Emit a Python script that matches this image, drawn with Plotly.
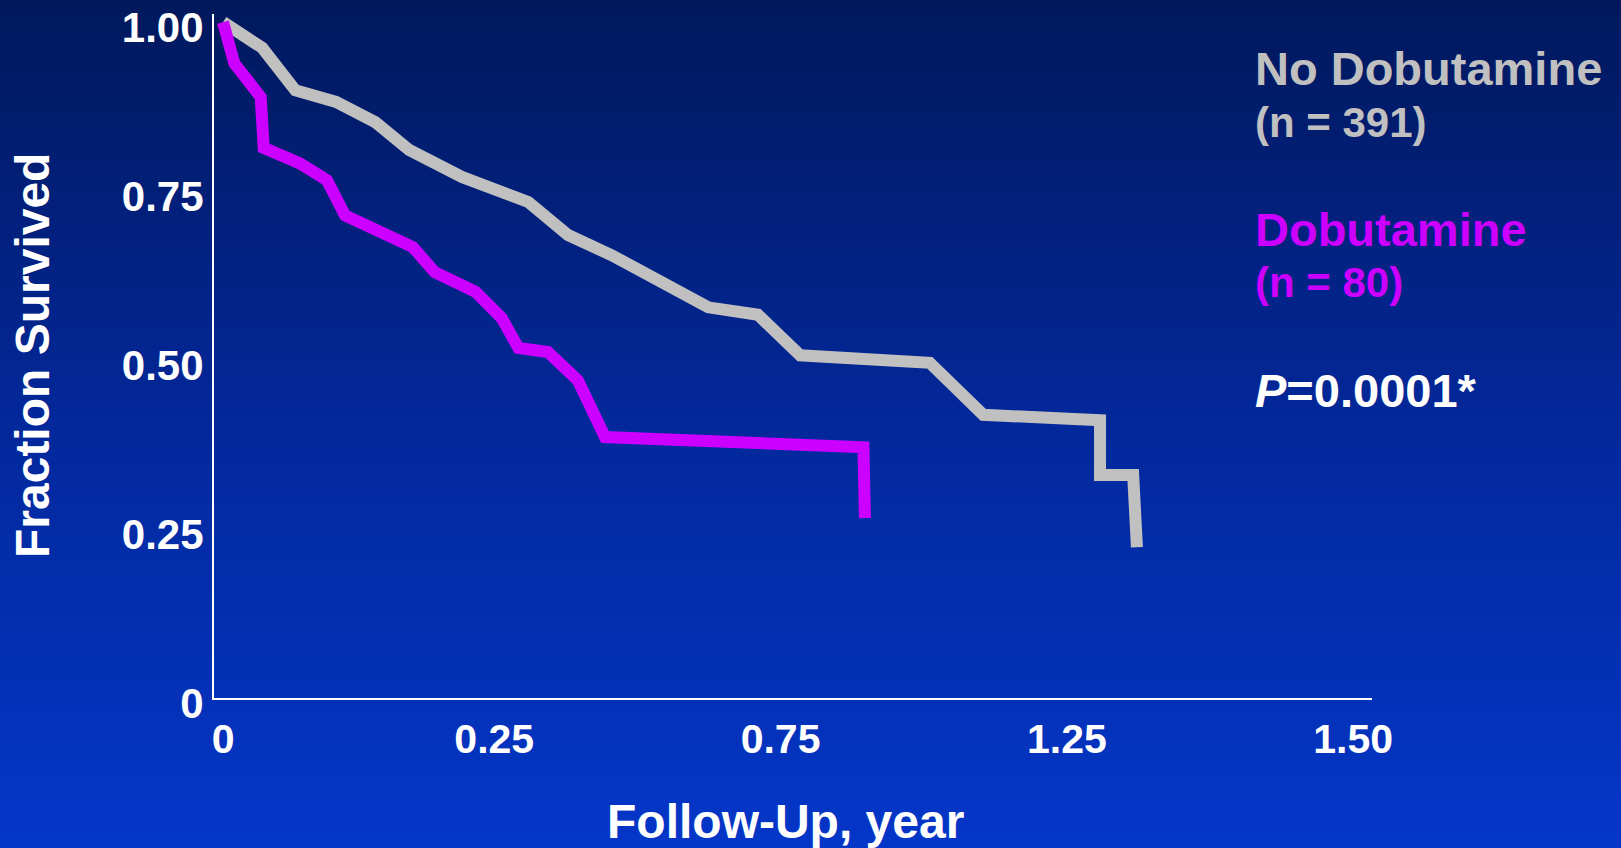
import plotly.graph_objects as go

# ---------------- data ----------------
no_dob_years = [0.000, 0.052, 0.096, 0.150, 0.202, 0.247, 0.317, 0.405, 0.458, 0.516,
                0.644, 0.710, 0.766, 0.938, 1.009, 1.164, 1.164, 1.208, 1.213]
no_dob_surv = [1.000, 0.962, 0.899, 0.882, 0.852, 0.811, 0.771, 0.734, 0.685, 0.655,
               0.578, 0.567, 0.507, 0.496, 0.419, 0.411, 0.330, 0.330, 0.223]

dob_years = [0.000, 0.015, 0.050, 0.054, 0.102, 0.138, 0.162, 0.252, 0.281, 0.335,
             0.370, 0.392, 0.431, 0.471, 0.507, 0.850, 0.852]
dob_surv = [1.000, 0.939, 0.889, 0.814, 0.791, 0.766, 0.714, 0.667, 0.630, 0.601,
            0.562, 0.518, 0.512, 0.470, 0.386, 0.371, 0.266]

xtick_vals = [0, 0.36, 0.74, 1.12, 1.50]
xtick_text = ["0", "0.25", "0.75", "1.25", "1.50"]
ytick_vals = [0, 0.25, 0.50, 0.75, 1.00]
ytick_text = ["0", "0.25", "0.50", "0.75", "1.00"]

label_no_dob = "No Dobutamine"
n_no_dob = "(n = 391)"
label_dob = "Dobutamine"
n_dob = "(n = 80)"
p_text = "<i>P</i>=0.0001*"

# ---------------- styling ----------------
W, H = 1621, 848
L, R, T, B = 214, 249, 14, 150
GRAY = "#C0C0C0"
MAGENTA = "#CC00FF"
FONT = "Liberation Sans, Arial, sans-serif"


def px_to_paper(px, py):
    return (px - L) / (W - L - R), (H - B - py) / (H - T - B)


def bg_color(t):
    stops = [(0.0, (1, 24, 92)), (0.5, (3, 40, 155)), (1.0, (4, 54, 200))]
    for (t0, c0), (t1, c1) in zip(stops[:-1], stops[1:]):
        if t0 <= t <= t1:
            f = (t - t0) / (t1 - t0)
            c = [round(a + (b - a) * f) for a, b in zip(c0, c1)]
            return "rgb(%d,%d,%d)" % tuple(c)
    return "rgb(4,54,200)"


fig = go.Figure()
fig.add_trace(go.Scatter(x=no_dob_years, y=no_dob_surv, mode="lines",
                         line=dict(color=GRAY, width=12), name=label_no_dob,
                         showlegend=False))
fig.add_trace(go.Scatter(x=dob_years, y=dob_surv, mode="lines",
                         line=dict(color=MAGENTA, width=12), name=label_dob,
                         showlegend=False))

# vertical gradient background made of thin bands
band = 4
xa, _ = px_to_paper(0, 0)
xb, _ = px_to_paper(W, 0)
for top in range(0, H, band):
    _, y_top = px_to_paper(0, top)
    _, y_bot = px_to_paper(0, min(top + band + 1, H))
    fig.add_shape(type="rect", xref="paper", yref="paper", x0=xa, x1=xb,
                  y0=y_bot, y1=y_top, layer="below", line=dict(width=0),
                  fillcolor=bg_color((top + band / 2) / H))

annots = [
    (label_no_dob, 1253, 69, 47, GRAY),
    (n_no_dob, 1253, 123, 42, GRAY),
    (label_dob, 1253, 229, 47, MAGENTA),
    (n_dob, 1253, 282, 42, MAGENTA),
    (p_text, 1253, 390, 47, "white"),
]
for text, px, py, size, color in annots:
    ax_, ay_ = px_to_paper(px, py)
    fig.add_annotation(text="<b>" + text + "</b>", x=ax_, y=ay_, xref="paper", yref="paper",
                       xanchor="left", yanchor="middle", showarrow=False,
                       font=dict(family=FONT, size=size, color=color))

tx, ty = px_to_paper(32, 356)
fig.add_annotation(text="<b>Fraction Survived</b>", x=tx, y=ty, xref="paper", yref="paper",
                   textangle=-90, xanchor="center", yanchor="middle", showarrow=False,
                   font=dict(family=FONT, size=48, color="white"))
tx, ty = px_to_paper(785, 821)
fig.add_annotation(text="<b>Follow-Up, year</b>", x=tx, y=ty, xref="paper", yref="paper",
                   xanchor="center", yanchor="middle", showarrow=False,
                   font=dict(family=FONT, size=48, color="white"))

fig.update_layout(
    width=W, height=H,
    margin=dict(l=L, r=R, t=T, b=B, pad=0, autoexpand=False),
    paper_bgcolor="rgb(1,24,92)",
    plot_bgcolor="rgba(0,0,0,0)",
    font=dict(family=FONT, color="white"),
    showlegend=False,
    xaxis=dict(range=[-0.012, 1.525], tickvals=xtick_vals,
               ticktext=["<b>%s</b>" % t for t in xtick_text],
               tickfont=dict(family=FONT, size=41, color="white"),
               showgrid=False, zeroline=False, showline=True, linecolor="white",
               linewidth=2, ticks="", ticklabelstandoff=4,
               ticklabeloverflow="allow", automargin=False),
    yaxis=dict(range=[0, 1.012], tickvals=ytick_vals,
               ticktext=["<b>%s</b>" % t for t in ytick_text],
               tickfont=dict(family=FONT, size=42, color="white"),
               showgrid=False, zeroline=False, showline=True, linecolor="white",
               linewidth=2, ticks="", ticklabelstandoff=0, ticklabelshift=5,
               ticklabeloverflow="allow", automargin=False),
)

fig.write_html("out.html", config={"displayModeBar": False},
               post_script="document.body.style.margin='0';"
                           "document.body.style.overflow='hidden';")
